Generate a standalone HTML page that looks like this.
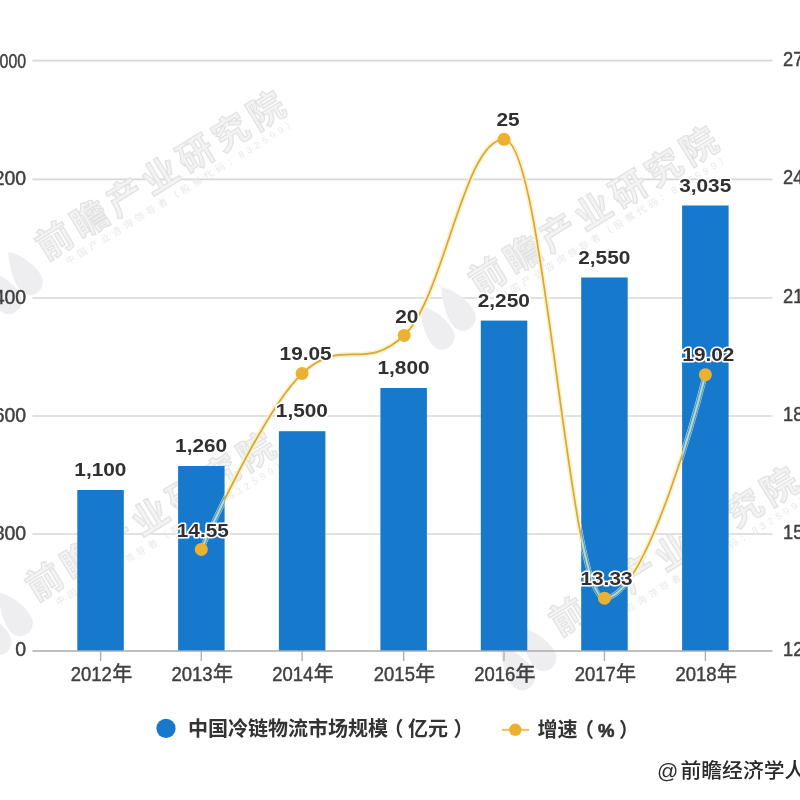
<!DOCTYPE html>
<html lang="zh-CN">
<head>
<meta charset="utf-8">
<title>中国冷链物流市场规模</title>
<style>
html,body{margin:0;padding:0;background:#fff;}
body{width:800px;height:800px;overflow:hidden;position:relative;}
svg{display:block;position:absolute;left:0;top:0;filter:blur(0.6px);}
.ax{font-family:"Liberation Sans","Noto Sans CJK SC",sans-serif;fill:#404040;stroke:#404040;stroke-width:0.45px;}
.dl{font-family:"Liberation Sans","Noto Sans CJK SC",sans-serif;font-weight:bold;fill:#303030;stroke:#fff;stroke-width:3px;paint-order:stroke fill;stroke-linejoin:round;}
.lg{font-family:"Liberation Sans","Noto Sans CJK SC",sans-serif;font-weight:bold;font-size:20px;fill:#333;}
.at{font-family:"Liberation Sans","Noto Sans CJK SC",sans-serif;font-weight:500;font-size:20.8px;fill:#2a2a2a;}
.wm{font-family:"Liberation Sans","Noto Sans CJK SC",sans-serif;font-weight:bold;font-size:36px;letter-spacing:5.4px;fill:#f3f3f3;stroke:#e2e2e2;stroke-width:1.2px;}
.wms{font-family:"Liberation Sans","Noto Sans CJK SC",sans-serif;font-size:9.5px;fill:#e8e8e8;letter-spacing:4px;}
</style>
</head>
<body>
<svg width="800" height="800" viewBox="0 0 800 800">
<rect width="800" height="800" fill="#fff"/>

<g stroke="#d7d7d7" stroke-width="1.6">
<line x1="32.5" x2="772.5" y1="60.6" y2="60.6"/>
<line x1="32.5" x2="772.5" y1="179.4" y2="179.4"/>
<line x1="32.5" x2="772.5" y1="298.0" y2="298.0"/>
<line x1="32.5" x2="772.5" y1="416.0" y2="416.0"/>
<line x1="32.5" x2="772.5" y1="534.0" y2="534.0"/>
</g>
<g transform="translate(45.9,261.1) rotate(-31.6)">
<path d="M-55,-23 C-44,-12 -38,6 -40,17 C-43,31 -63,31 -65,17 C-67,6 -62,-10 -55,-23 Z M-27,-28 C-16,-17 -10,1 -12,12 C-15,26 -35,26 -37,12 C-39,1 -34,-15 -27,-28 Z" fill="#eeeef1"/>
<text class="wm" x="0" y="0" transform="scale(1,1)">前瞻产业研究院</text>
<text class="wms" x="17" y="15">中国产业咨询领导者（股票代码：832599）</text>
</g>
<g transform="translate(478.9,296.6) rotate(-31.6)">
<path d="M-55,-23 C-44,-12 -38,6 -40,17 C-43,31 -63,31 -65,17 C-67,6 -62,-10 -55,-23 Z M-27,-28 C-16,-17 -10,1 -12,12 C-15,26 -35,26 -37,12 C-39,1 -34,-15 -27,-28 Z" fill="#eeeef1"/>
<text class="wm" x="0" y="0" transform="scale(1,1)">前瞻产业研究院</text>
<text class="wms" x="17" y="15">中国产业咨询领导者（股票代码：832599）</text>
</g>
<g transform="translate(35.9,602.1) rotate(-31.6)">
<path d="M-55,-23 C-44,-12 -38,6 -40,17 C-43,31 -63,31 -65,17 C-67,6 -62,-10 -55,-23 Z M-27,-28 C-16,-17 -10,1 -12,12 C-15,26 -35,26 -37,12 C-39,1 -34,-15 -27,-28 Z" fill="#eeeef1"/>
<text class="wm" x="0" y="0" transform="scale(1,1)">前瞻产业研究院</text>
<text class="wms" x="17" y="15">中国产业咨询领导者（股票代码：832599）</text>
</g>
<g transform="translate(559.4,637.1) rotate(-31.6)">
<path d="M-55,-23 C-44,-12 -38,6 -40,17 C-43,31 -63,31 -65,17 C-67,6 -62,-10 -55,-23 Z M-27,-28 C-16,-17 -10,1 -12,12 C-15,26 -35,26 -37,12 C-39,1 -34,-15 -27,-28 Z" fill="#eeeef1"/>
<text class="wm" x="0" y="0" transform="scale(1,1)">前瞻产业研究院</text>
<text class="wms" x="17" y="15">中国产业咨询领导者（股票代码：832599）</text>
</g>
<g fill="#1679cc">
<rect x="77.3" y="490.0" width="46.5" height="161.0"/>
<rect x="178.1" y="466.0" width="46.5" height="185.0"/>
<rect x="278.9" y="431.2" width="46.5" height="219.8"/>
<rect x="380.4" y="388.0" width="46.5" height="263.0"/>
<rect x="480.8" y="320.6" width="46.5" height="330.4"/>
<rect x="581.2" y="277.5" width="46.5" height="373.5"/>
<rect x="682.1" y="205.5" width="46.5" height="445.5"/>
</g>
<clipPath id="barclip">
<rect x="77.3" y="490.0" width="46.5" height="161.0"/>
<rect x="178.1" y="466.0" width="46.5" height="185.0"/>
<rect x="278.9" y="431.2" width="46.5" height="219.8"/>
<rect x="380.4" y="388.0" width="46.5" height="263.0"/>
<rect x="480.8" y="320.6" width="46.5" height="330.4"/>
<rect x="581.2" y="277.5" width="46.5" height="373.5"/>
<rect x="682.1" y="205.5" width="46.5" height="445.5"/>
</clipPath>
<g stroke="#a9abb0" stroke-width="1.3"><line x1="32.5" x2="772.5" y1="651.0" y2="651.0"/>
<line x1="100.6" x2="100.6" y1="651.0" y2="661.0"/>
<line x1="201.3" x2="201.3" y1="651.0" y2="661.0"/>
<line x1="302.1" x2="302.1" y1="651.0" y2="661.0"/>
<line x1="403.7" x2="403.7" y1="651.0" y2="661.0"/>
<line x1="504.0" x2="504.0" y1="651.0" y2="661.0"/>
<line x1="604.5" x2="604.5" y1="651.0" y2="661.0"/>
<line x1="705.4" x2="705.4" y1="651.0" y2="661.0"/>
</g>
<path d="M201.30,549.40 C201.30,549.40 261.78,411.62 302.10,373.51 C342.94,335.40 363.36,373.51 404.20,335.40 C444.12,297.29 464.08,139.32 504.00,139.32 C544.20,139.32 568.32,598.20 604.50,598.20 C648.90,598.20 705.40,374.69 705.40,374.69" fill="none" stroke="#fdf0c4" stroke-opacity="0.9" stroke-width="5"/>
<path d="M201.30,549.40 C201.30,549.40 261.78,411.62 302.10,373.51 C342.94,335.40 363.36,373.51 404.20,335.40 C444.12,297.29 464.08,139.32 504.00,139.32 C544.20,139.32 568.32,598.20 604.50,598.20 C648.90,598.20 705.40,374.69 705.40,374.69" fill="none" stroke="#d6a838" stroke-width="1.7" stroke-linecap="round"/>
<g clip-path="url(#barclip)"><path d="M201.30,549.40 C201.30,549.40 261.78,411.62 302.10,373.51 C342.94,335.40 363.36,373.51 404.20,335.40 C444.12,297.29 464.08,139.32 504.00,139.32 C544.20,139.32 568.32,598.20 604.50,598.20 C648.90,598.20 705.40,374.69 705.40,374.69" fill="none" stroke="#4692c8" stroke-width="4.2"/><path d="M201.30,549.40 C201.30,549.40 261.78,411.62 302.10,373.51 C342.94,335.40 363.36,373.51 404.20,335.40 C444.12,297.29 464.08,139.32 504.00,139.32 C544.20,139.32 568.32,598.20 604.50,598.20 C648.90,598.20 705.40,374.69 705.40,374.69" fill="none" stroke="#b2dacb" stroke-width="2.1"/></g>
<circle cx="201.3" cy="549.4" r="6.5" fill="#ecb12e"/>
<circle cx="302.1" cy="373.5" r="6.5" fill="#ecb12e"/>
<circle cx="404.2" cy="335.4" r="6.5" fill="#ecb12e"/>
<circle cx="504.0" cy="139.3" r="6.5" fill="#ecb12e"/>
<circle cx="604.5" cy="598.2" r="6.5" fill="#ecb12e"/>
<circle cx="705.4" cy="374.7" r="6.5" fill="#ecb12e"/>
<text class="dl" text-anchor="middle" font-size="17.5" transform="translate(100.4,476.0) scale(1.19,1)">1,100</text>
<text class="dl" text-anchor="middle" font-size="17.5" transform="translate(201.1,452.0) scale(1.19,1)">1,260</text>
<text class="dl" text-anchor="middle" font-size="17.5" transform="translate(301.9,417.2) scale(1.19,1)">1,500</text>
<text class="dl" text-anchor="middle" font-size="17.5" transform="translate(403.5,374.0) scale(1.19,1)">1,800</text>
<text class="dl" text-anchor="middle" font-size="17.5" transform="translate(503.8,306.6) scale(1.19,1)">2,250</text>
<text class="dl" text-anchor="middle" font-size="17.5" transform="translate(604.3,263.5) scale(1.19,1)">2,550</text>
<text class="dl" text-anchor="middle" font-size="17.5" transform="translate(705.2,191.5) scale(1.19,1)">3,035</text>
<text class="dl" text-anchor="middle" font-size="17.5" transform="translate(202.8,537.0) scale(1.19,1)">14.55</text>
<text class="dl" text-anchor="middle" font-size="17.5" transform="translate(305.6,359.9) scale(1.19,1)">19.05</text>
<text class="dl" text-anchor="middle" font-size="17.5" transform="translate(406.7,322.5) scale(1.19,1)">20</text>
<text class="dl" text-anchor="middle" font-size="17.5" transform="translate(508.0,125.7) scale(1.19,1)">25</text>
<text class="dl" text-anchor="middle" font-size="17.5" transform="translate(606.5,585.1) scale(1.19,1)">13.33</text>
<text class="dl" text-anchor="middle" font-size="17.5" transform="translate(708.4,361.1) scale(1.19,1)">19.02</text>
<text class="ax" text-anchor="end" font-size="20.3" transform="translate(111.8,681.0) scale(0.91,1)">2012</text>
<text class="ax" text-anchor="start" font-size="20" transform="translate(112.2,680.5) scale(1,1)">年</text>
<text class="ax" text-anchor="end" font-size="20.3" transform="translate(212.5,681.0) scale(0.91,1)">2013</text>
<text class="ax" text-anchor="start" font-size="20" transform="translate(212.9,680.5) scale(1,1)">年</text>
<text class="ax" text-anchor="end" font-size="20.3" transform="translate(313.3,681.0) scale(0.91,1)">2014</text>
<text class="ax" text-anchor="start" font-size="20" transform="translate(313.7,680.5) scale(1,1)">年</text>
<text class="ax" text-anchor="end" font-size="20.3" transform="translate(414.9,681.0) scale(0.91,1)">2015</text>
<text class="ax" text-anchor="start" font-size="20" transform="translate(415.3,680.5) scale(1,1)">年</text>
<text class="ax" text-anchor="end" font-size="20.3" transform="translate(515.2,681.0) scale(0.91,1)">2016</text>
<text class="ax" text-anchor="start" font-size="20" transform="translate(515.6,680.5) scale(1,1)">年</text>
<text class="ax" text-anchor="end" font-size="20.3" transform="translate(615.7,681.0) scale(0.91,1)">2017</text>
<text class="ax" text-anchor="start" font-size="20" transform="translate(616.1,680.5) scale(1,1)">年</text>
<text class="ax" text-anchor="end" font-size="20.3" transform="translate(716.6,681.0) scale(0.91,1)">2018</text>
<text class="ax" text-anchor="start" font-size="20" transform="translate(717.0,680.5) scale(1,1)">年</text>
<text class="ax" text-anchor="end" font-size="21" transform="translate(26.2,656.2) scale(0.93,1)">0</text>
<text class="ax" text-anchor="end" font-size="21" transform="translate(26.2,540.0) scale(0.93,1)">800</text>
<text class="ax" text-anchor="end" font-size="21" transform="translate(26.2,422.0) scale(0.93,1)">1,600</text>
<text class="ax" text-anchor="end" font-size="21" transform="translate(26.2,304.0) scale(0.93,1)">2,400</text>
<text class="ax" text-anchor="end" font-size="21" transform="translate(26.2,185.4) scale(0.93,1)">3,200</text>
<text class="ax" text-anchor="end" font-size="21" transform="translate(26.2,68.2) scale(0.76,1)">4,000</text>
<text class="ax" text-anchor="start" font-size="21" transform="translate(783.0,655.9) scale(0.87,1)">12</text>
<text class="ax" text-anchor="start" font-size="21" transform="translate(783.0,538.9) scale(0.87,1)">15</text>
<text class="ax" text-anchor="start" font-size="21" transform="translate(783.0,420.9) scale(0.87,1)">18</text>
<text class="ax" text-anchor="start" font-size="21" transform="translate(783.0,302.9) scale(0.87,1)">21</text>
<text class="ax" text-anchor="start" font-size="21" transform="translate(783.0,184.3) scale(0.87,1)">24</text>
<text class="ax" text-anchor="start" font-size="21" transform="translate(783.0,65.5) scale(0.87,1)">27</text>
<circle cx="166" cy="728.4" r="9.6" fill="#1679cc"/>
<text class="lg" x="188" y="736.4">中国冷链物流市场规模<tspan dx="-4.5">（</tspan><tspan dx="4.5">亿元</tspan><tspan dx="5.5">）</tspan></text>
<line x1="502" x2="529" y1="729.8" y2="729.8" stroke="#ecc050" stroke-width="2"/>
<circle cx="515.3" cy="729.8" r="6.2" fill="#ecb12e"/>
<text class="lg" x="537.5" y="736.9">增速<tspan dx="-3.5">（</tspan><tspan dx="4" font-size="18.5" font-weight="bold" stroke="#333" stroke-width="0.6">%</tspan><tspan dx="4.5">）</tspan></text>
<text class="at" x="657" y="777.5"><tspan font-size="21">@</tspan><tspan x="680.5">前瞻经济学人</tspan></text>
</svg>
</body>
</html>
